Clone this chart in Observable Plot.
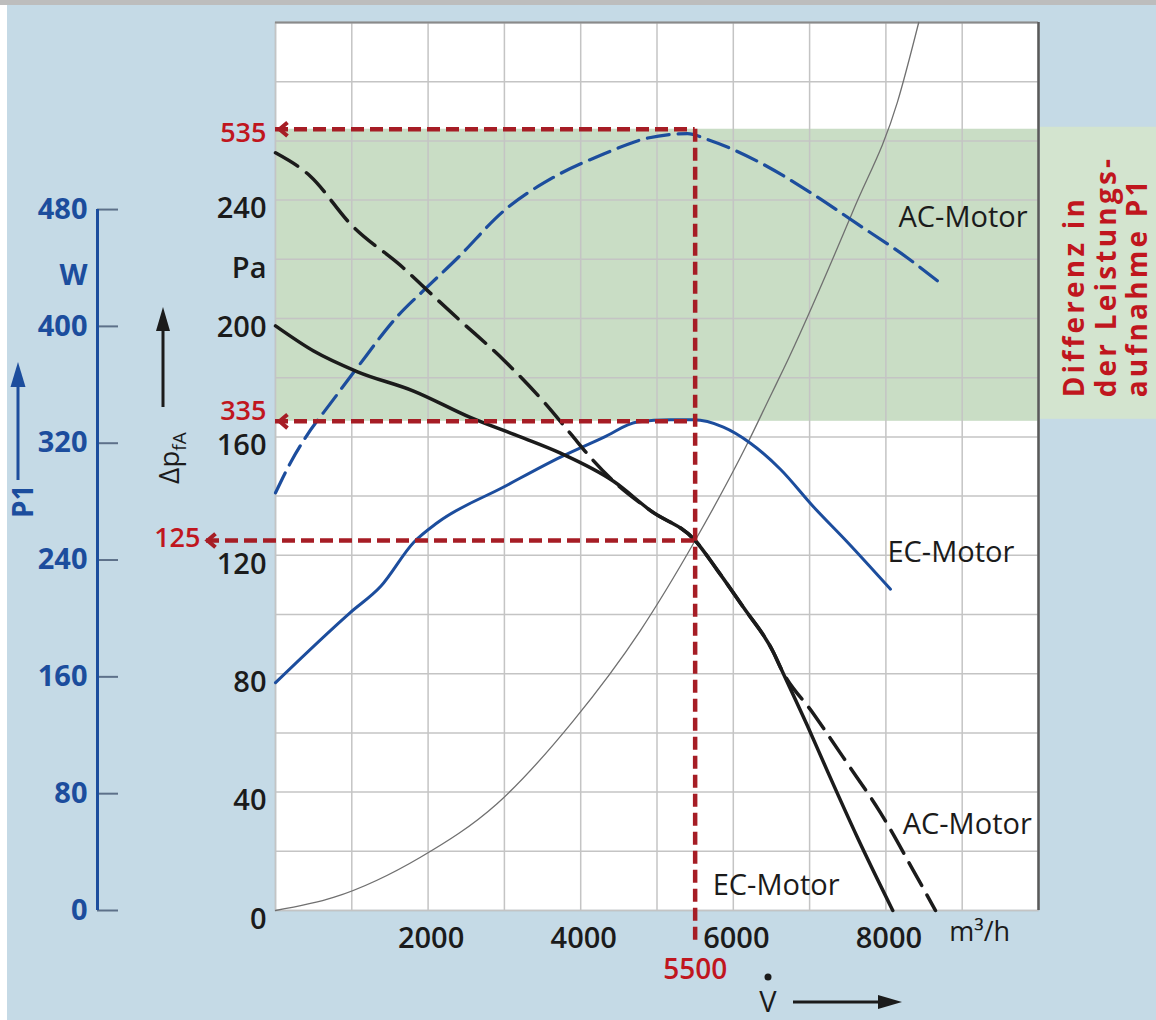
<!DOCTYPE html>
<html>
<head>
<meta charset="utf-8">
<script src="https://cdn.jsdelivr.net/npm/d3@7"></script>
<script src="https://cdn.jsdelivr.net/npm/@observablehq/plot@0.6"></script>
<style>
  html, body { margin: 0; padding: 0; }
  body { width: 1156px; height: 1020px; overflow: hidden; background: #c5dae6; font-family: "Open Sans", sans-serif; }
  #wrap { position: relative; width: 1156px; height: 1020px; background: #c5dae6; }
  #topbar { position: absolute; left: 0; top: 0; width: 1156px; height: 5px; background: #bdbdbd; }
  #leftbar { position: absolute; left: 0; top: 5px; width: 7px; height: 1015px; background: #ffffff; }
  .layer { position: absolute; left: 0; top: 0; }
</style>
</head>
<body>
<div id="wrap">
  <div id="topbar"></div>
  <div id="leftbar"></div>
</div>
<script>
// ---------- data ----------
const flowTicks = [2000, 4000, 6000, 8000];
const pressureTicks = [0, 40, 80, 120, 160, 200, 240];
const powerTicks = [0, 80, 160, 240, 320, 400, 480];
const gridFlow = [0, 1000, 2000, 3000, 4000, 5000, 6000, 7000, 8000, 9000, 10000];
const gridPressure = [0, 20, 40, 60, 80, 100, 120, 140, 160, 180, 200, 220, 240, 260, 280, 300];

// fan pressure curves (Pa) vs volume flow (m³/h)
const acPressureFlow = [0, 460, 980, 1680, 1990, 2390, 2990, 3510, 3870, 4130, 4430, 4920, 5500, 5790, 6130, 6530, 6620, 7050, 7500, 7930, 8360, 8650];
const acPressurePa   = [256, 248, 232, 217, 209.5, 200, 186, 172, 161, 153, 145, 135, 125, 115, 102.5, 87, 82, 66.5, 49.5, 33, 13.5, 0];
const ecPressureFlow = [0, 500, 1075, 1810, 2560, 3210, 3735, 4430, 4920, 5500, 5790, 6130, 6530, 6620, 6970, 7235, 7630, 8090];
const ecPressurePa   = [197.5, 189, 182, 175.5, 166.5, 160, 154.5, 145, 135, 125, 115, 102.5, 87, 82, 62.5, 47, 24.5, 0];

// power input P1 (W) vs volume flow
const acPowerFlow = [0, 200, 370, 760, 1075, 1600, 1990, 2390, 2990, 3640, 4300, 4880, 5400, 5660, 6320, 6970, 7630, 8280, 8680];
const acPowerW    = [286, 307, 322, 350, 372, 407, 427, 447, 479, 502, 518, 529, 532, 528, 513, 493, 470, 447, 431];
const ecPowerFlow = [0, 980, 1380, 1810, 2120, 2990, 3735, 4300, 4740, 5180, 5480, 5870, 6225, 6620, 7050, 7500, 8060];
const ecPowerW    = [156, 204, 222, 252, 265.5, 290, 310.5, 324, 334.5, 336, 336, 331, 320, 302, 276.5, 252, 220];

// system (duct) characteristic
const systemFlow = [0, 760, 1900, 2900, 3900, 4780, 5500, 6190, 6490, 6660, 7580, 8150, 8430];
const systemPa   = [0, 4.4, 18, 36, 64, 94.5, 125, 158, 174, 183, 237, 273, 300];

// operating point and power readings
const refFlow = 5500;
const refPressure = 125;
const refPowers = [535, 335];

// curve annotations
const curveLabelText = ["AC-Motor", "EC-Motor", "AC-Motor", "EC-Motor"];
const curveLabelFlow = [8165, 8020, 8220, 5730];
const curveLabelPa   = [234, 121, 29, 8.5];

const noteText = "Differenz in\nder Leistungs-\naufnahme P1";

// ---------- helpers ----------
const rows = (xs, ys) => xs.map((x, i) => ({flow: x, value: ys[i]}));
const k = 2.027;          // W per Pa on the shared vertical scale
const blue = "#1c4d9d", red = "#a61d25", redText = "#c0161e", ink = "#1b1b1b";
const chevron = {
  draw(ctx, size) {
    const r = Math.sqrt(size / Math.PI);
    ctx.moveTo(r, -r * 0.85);
    ctx.lineTo(0, 0);
    ctx.lineTo(r, r * 0.85);
  }
};
const redDash = {stroke: red, strokeWidth: 4.5, strokeDasharray: "13,6"};
const baseStyle = {background: "transparent", fontFamily: "'Open Sans', sans-serif", fontSize: "29px", color: ink, overflow: "visible"};
const curve = "monotone-x";

// ---------- main chart ----------
const main = Plot.plot({
  width: 1156, height: 1020,
  marginTop: 22, marginRight: 118, marginBottom: 110, marginLeft: 275,
  x: {domain: [0, 10000]},
  y: {domain: [0, 300]},
  style: baseStyle,
  marks: [
    Plot.frame({fill: "white", stroke: "#b9c3c9", strokeWidth: 1.5}),
    Plot.rect([refPowers], {x1: () => 0, x2: () => 10000, y1: d => d[1] / k, y2: d => d[0] / k, fill: "#c9ddc5"}),
    Plot.rect([refPowers], {x1: () => 10000, x2: () => 10000, y1: d => d[1] / k, y2: d => d[0] / k, insetLeft: 2, insetRight: -118, dy: -2, fill: "#d3e4cf"}),
    Plot.gridX(gridFlow, {stroke: "#c4c4c4", strokeOpacity: 1, strokeWidth: 1.5}),
    Plot.gridY(gridPressure, {stroke: "#c4c4c4", strokeOpacity: 1, strokeWidth: 1.5}),
    Plot.ruleY([300], {stroke: "#8a8a8a", strokeWidth: 2}),
    Plot.ruleX([10000], {stroke: "#5a5a5a", strokeWidth: 2.5}),
    Plot.line(rows(systemFlow, systemPa), {x: "flow", y: "value", stroke: "#707070", strokeWidth: 1.3, curve}),
    Plot.line(rows(ecPowerFlow, ecPowerW), {x: "flow", y: d => d.value / k, stroke: blue, strokeWidth: 3, curve}),
    Plot.line(rows(acPowerFlow, acPowerW), {x: "flow", y: d => d.value / k, stroke: blue, strokeWidth: 3.2, strokeDasharray: "22,9", curve}),
    Plot.line(rows(ecPressureFlow, ecPressurePa), {x: "flow", y: "value", stroke: ink, strokeWidth: 3.5, curve}),
    Plot.line(rows(acPressureFlow, acPressurePa), {x: "flow", y: "value", stroke: ink, strokeWidth: 3.5, strokeDasharray: "26,11", curve}),
    // reference lines
    Plot.ruleY(refPowers, {y: d => d / k, x1: () => 0, x2: () => refFlow, ...redDash}),
    Plot.ruleY([refPressure], {y: d => d, x1: () => 0, x2: () => refFlow, insetLeft: -69, ...redDash}),
    Plot.ruleX([refFlow], {x: d => d, y1: () => refPowers[0] / k, y2: () => 0, insetBottom: -35, ...redDash}),
    Plot.dot(refPowers, {x: () => 0, y: d => d / k, symbol: chevron, r: 8, stroke: red, strokeWidth: 4, fill: "none", dx: 4}),
    Plot.dot([refPressure], {x: () => 0, y: d => d, symbol: chevron, r: 8, stroke: red, strokeWidth: 4, fill: "none", dx: -68}),
    Plot.text([refPowers[0]], {x: () => 0, y: d => d / k, text: d => String(d), textAnchor: "end", dx: -9, dy: 4, fill: redText, fontSize: 27, fontWeight: 600}),
    Plot.text([refPowers[1]], {x: () => 0, y: d => d / k, text: d => String(d), textAnchor: "end", dx: -9, dy: -10, fill: redText, fontSize: 27, fontWeight: 600}),
    Plot.text([refPressure], {x: () => 0, y: d => d, text: d => String(d), textAnchor: "end", dx: -75, dy: -2, fill: redText, fontSize: 27, fontWeight: 600}),
    Plot.text([refFlow], {x: d => d, frameAnchor: "bottom", dy: 68, text: d => String(d), fill: redText, fontSize: 28, fontWeight: 600}),
    // axes
    Plot.axisX(flowTicks, {anchor: "bottom", tickSize: 0, tickPadding: 17, dx: 3, tickFormat: d => String(d), fontWeight: 600, fontSize: 29, label: null}),
    Plot.axisY(pressureTicks, {anchor: "left", tickSize: 0, tickPadding: 9, dy: 9, fontWeight: 600, fontSize: 29, label: null}),
    Plot.text(["Pa"], {x: () => 0, y: () => (pressureTicks[5] + pressureTicks[6]) / 2, textAnchor: "end", dx: -9, dy: 9, fontWeight: 600, fontSize: 29}),
    Plot.text(["m³/h"], {x: () => 9230, frameAnchor: "bottom", dy: 30, fontSize: 27, fontWeight: 400}),
    // curve labels
    Plot.text(curveLabelText, {x: (d, i) => curveLabelFlow[i], y: (d, i) => curveLabelPa[i], text: d => d, textAnchor: "start", fontSize: 29, fill: ink}),
    // side note
    Plot.text([noteText], {x: () => 10000, y: () => refPowers[1] / k, dx: 67, dy: -24, rotate: -90, textAnchor: "start", lineAnchor: "middle", lineHeight: 1.12, fontWeight: 700, fontSize: 28, fill: redText})
  ]
});
main.classList.add("layer");
// widen the tracking of the rotated side note, as in the original lettering
main.querySelectorAll("text").forEach(t => {
  if (t.textContent.startsWith("Differenz")) t.style.letterSpacing = "3.2px";
});

// ---------- P1 axis (shares vertical geometry) ----------
const p1 = Plot.plot({
  width: 140, height: 1020,
  marginTop: 22, marginBottom: 110, marginLeft: 97, marginRight: 22,
  x: {domain: [0, 1], axis: null},
  y: {domain: [0, 300 * k]},
  style: baseStyle,
  marks: [
    Plot.ruleY(powerTicks, {stroke: "#5d7089", strokeWidth: 2}),
    Plot.ruleX([0], {y1: () => powerTicks[0], y2: () => powerTicks[powerTicks.length - 1], stroke: blue, strokeWidth: 3}),
    Plot.axisY(powerTicks, {anchor: "left", tickSize: 0, tickPadding: 10, fill: blue, fontWeight: 700, fontSize: 29, label: null}),
    Plot.text(["W"], {frameAnchor: "left", y: () => (powerTicks[5] + powerTicks[6]) / 2, dx: -10, dy: 8, textAnchor: "end", fill: blue, fontWeight: 700, fontSize: 29})
  ]
});
p1.classList.add("layer");

const wrap = document.getElementById("wrap");
wrap.appendChild(p1);
wrap.appendChild(main);

// ---------- axis title arrows ----------
const ns = "http://www.w3.org/2000/svg";
const deco = document.createElementNS(ns, "svg");
deco.setAttribute("class", "layer");
deco.setAttribute("width", 1156);
deco.setAttribute("height", 1020);
deco.innerHTML = `
  <g font-family="'Open Sans', sans-serif">
    <text transform="translate(33,518) rotate(-90)" fill="${blue}" font-weight="700" font-size="28">P1</text>
    <line x1="18" y1="480" x2="18" y2="380" stroke="${blue}" stroke-width="3"/>
    <path d="M18,362 L10.5,387 L25.5,387 Z" fill="${blue}"/>
    <text transform="translate(179,484) rotate(-90)" fill="${ink}" font-size="28">Δp<tspan font-size="19" dy="7">fA</tspan></text>
    <line x1="163" y1="407" x2="163" y2="325" stroke="${ink}" stroke-width="3"/>
    <path d="M163,307 L156,331 L170,331 Z" fill="${ink}"/>
    <text x="768" y="1012" text-anchor="middle" fill="${ink}" font-size="29">V</text>
    <circle cx="768" cy="977" r="3.5" fill="${ink}"/>
    <line x1="793" y1="1002" x2="882" y2="1002" stroke="${ink}" stroke-width="3"/>
    <path d="M902,1002 L878,995 L878,1009 Z" fill="${ink}"/>
  </g>`;
wrap.appendChild(deco);
</script>
</body>
</html>
